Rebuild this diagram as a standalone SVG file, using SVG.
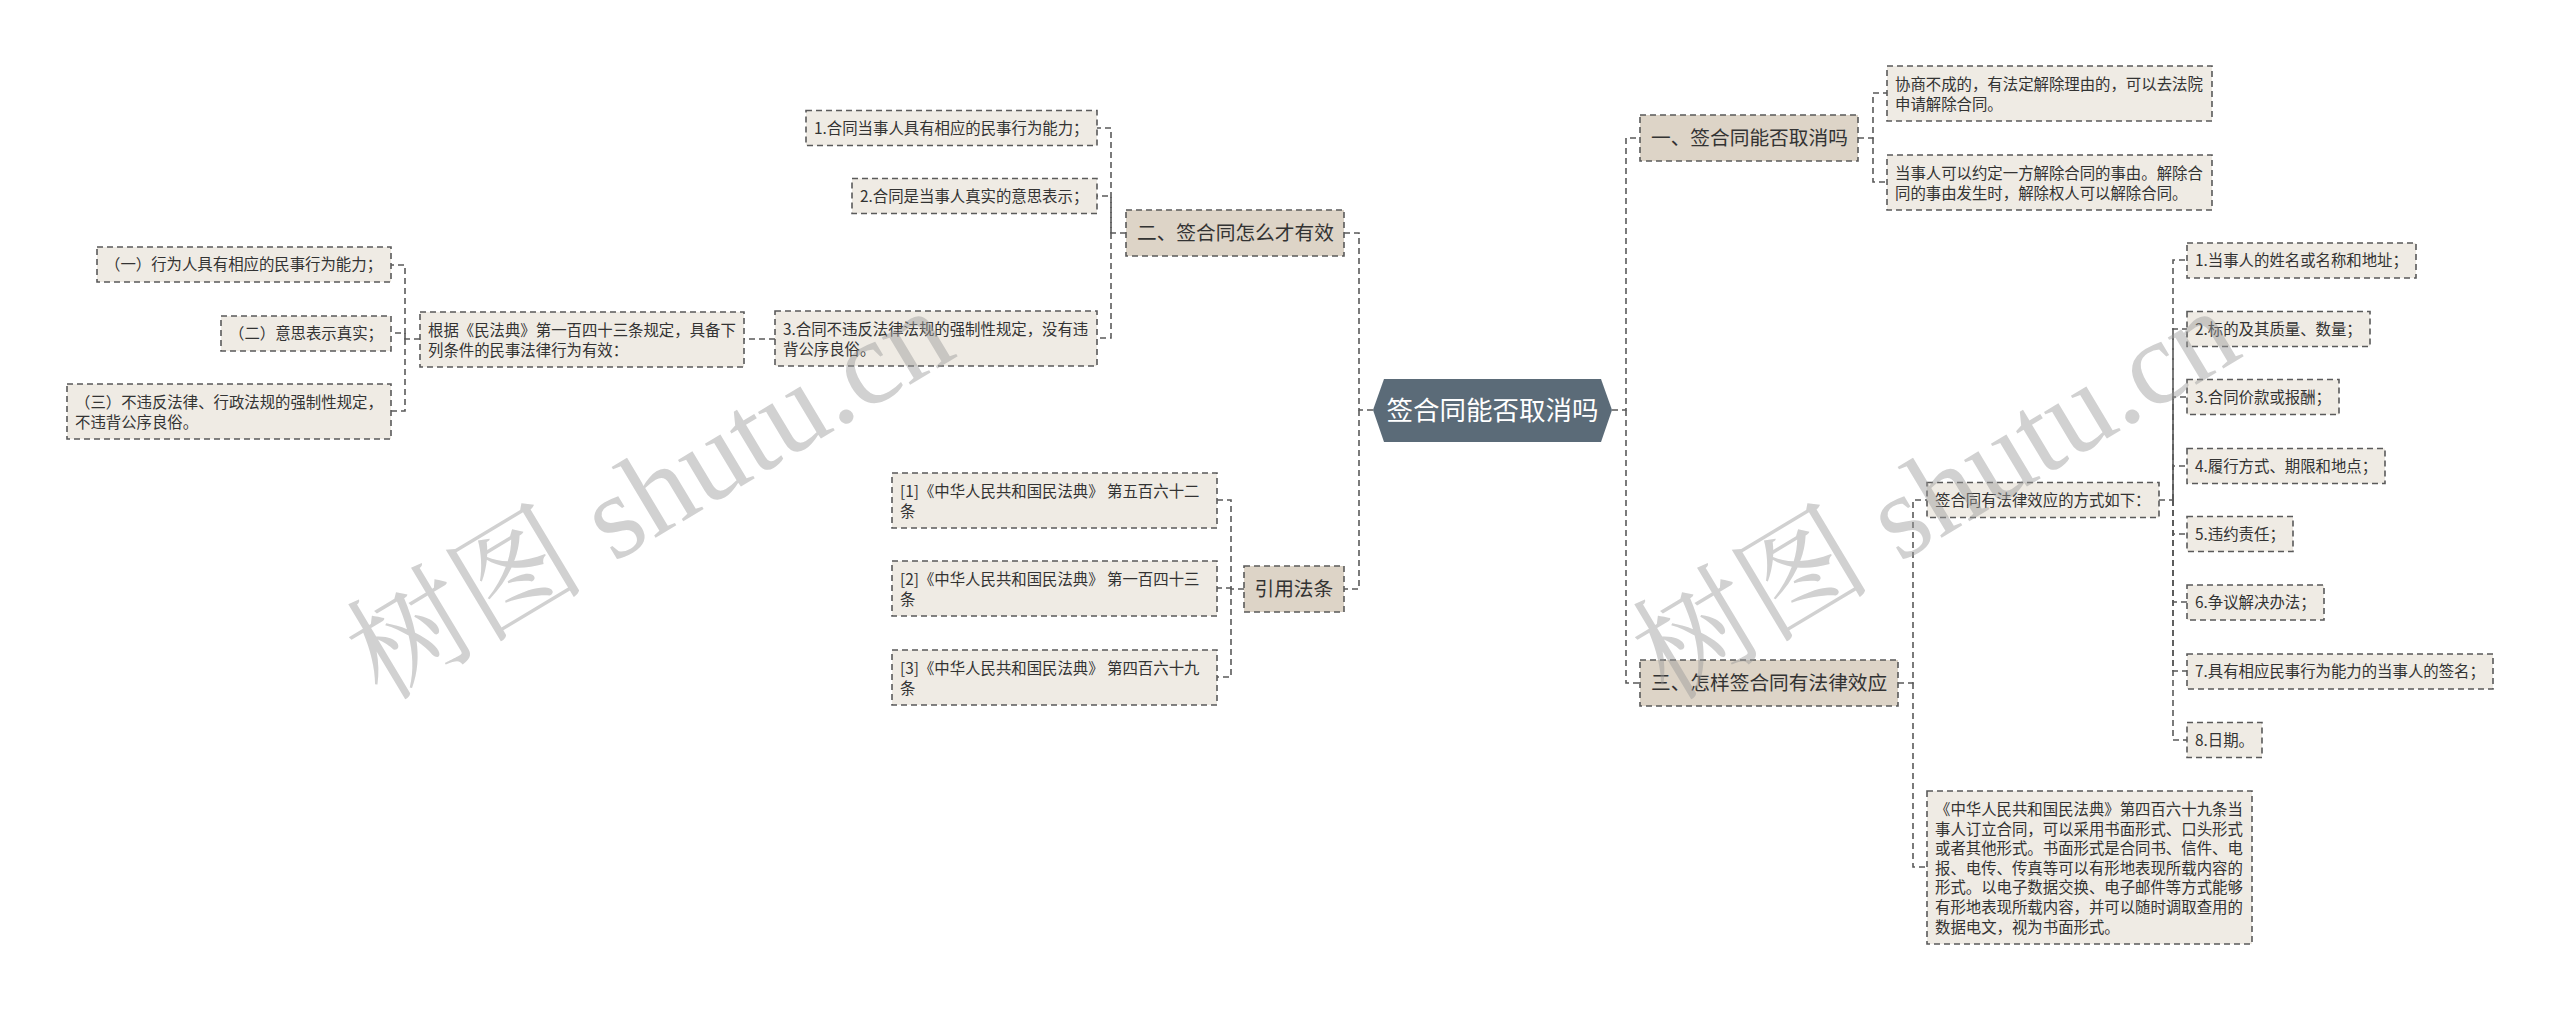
<svg xmlns="http://www.w3.org/2000/svg" width="2560" height="1011" viewBox="0 0 2560 1011">
<defs>
<style>
.bx{fill:#efebe4;stroke:#5a5a5a;stroke-width:1.6;stroke-dasharray:6 4}
.l1{fill:#ddd4c7;stroke:#5a5a5a;stroke-width:1.6;stroke-dasharray:6 4}
.t{font-family:"Noto Sans CJK SC","Microsoft YaHei",sans-serif;font-size:15.4px;fill:#333}
.t1{font-family:"Noto Sans CJK SC","Microsoft YaHei",sans-serif;font-size:19.7px;fill:#333}
.tc{font-family:"Noto Sans CJK SC","Microsoft YaHei",sans-serif;font-size:26.5px;fill:#fff}
.c{fill:none;stroke:#5a5a5a;stroke-width:1.6;stroke-dasharray:6 4}
.wm{font-family:"Liberation Serif","Noto Serif CJK SC","Noto Sans CJK SC",serif;font-size:120px;fill:#9a9a9a;opacity:0.45}
</style>
</defs>
<rect width="2560" height="1011" fill="#fff"/>
<g id="connectors">
<path class="c" d="M1373 410H1359V233H1344"/>
<path class="c" d="M1359 410V589H1344"/>
<path class="c" d="M1126 233H1111V128H1097"/>
<path class="c" d="M1111 233V196H1097"/>
<path class="c" d="M1111 233V338H1097"/>
<path class="c" d="M775 339H744"/>
<path class="c" d="M420 339H405V265H391"/>
<path class="c" d="M405 339V333H391"/>
<path class="c" d="M405 339V411H391"/>
<path class="c" d="M1244 589H1231V500H1217"/>
<path class="c" d="M1231 589V588H1217"/>
<path class="c" d="M1231 589V677H1217"/>
<path class="c" d="M1612 410H1626V138H1640"/>
<path class="c" d="M1626 410V683H1640"/>
<path class="c" d="M1858 138H1873V93H1887"/>
<path class="c" d="M1873 138V182H1887"/>
<path class="c" d="M1898 683H1913V500H1927"/>
<path class="c" d="M1913 683V867H1927"/>
<path class="c" d="M2159 500H2173V260H2187"/>
<path class="c" d="M2173 500V329H2187"/>
<path class="c" d="M2173 500V397H2187"/>
<path class="c" d="M2173 500V466H2187"/>
<path class="c" d="M2173 500V534H2187"/>
<path class="c" d="M2173 500V602H2187"/>
<path class="c" d="M2173 500V671H2187"/>
<path class="c" d="M2173 500V740H2187"/>
</g>
<g id="root">
<polygon points="1373,410 1384,379 1601,379 1612,410 1601,442 1384,442" fill="#5b6b78"/>
<text class="tc" x="1492.5" y="420" text-anchor="middle">签合同能否取消吗</text>
</g>
<g id="n2">
<rect class="l1" x="1126" y="210" width="218" height="46"/>
<text class="t1" x="1137" y="240">二、签合同怎么才有效</text>
</g>
<g id="n2-1">
<rect class="bx" x="806" y="110.5" width="291" height="35"/>
<text class="t" x="814" y="133.5">1.合同当事人具有相应的民事行为能力；</text>
</g>
<g id="n2-2">
<rect class="bx" x="852" y="178.5" width="245" height="35"/>
<text class="t" x="860" y="201.5">2.合同是当事人真实的意思表示；</text>
</g>
<g id="n2-3">
<rect class="bx" x="775" y="311" width="322" height="55"/>
<text class="t" x="783" y="335">3.合同不违反法律法规的强制性规定，没有违</text>
<text class="t" x="783" y="354.6">背公序良俗。</text>
</g>
<g id="n2-3-1">
<rect class="bx" x="420" y="312" width="324" height="55"/>
<text class="t" x="428" y="336">根据《民法典》第一百四十三条规定，具备下</text>
<text class="t" x="428" y="355.6">列条件的民事法律行为有效：</text>
</g>
<g id="n2-3-1-a">
<rect class="bx" x="97" y="247" width="294" height="35"/>
<text class="t" x="105" y="270">（一）行为人具有相应的民事行为能力；</text>
</g>
<g id="n2-3-1-b">
<rect class="bx" x="221" y="316" width="170" height="35"/>
<text class="t" x="229" y="339">（二）意思表示真实；</text>
</g>
<g id="n2-3-1-c">
<rect class="bx" x="67" y="384" width="324" height="55"/>
<text class="t" x="75" y="408">（三）不违反法律、行政法规的强制性规定，</text>
<text class="t" x="75" y="427.6">不违背公序良俗。</text>
</g>
<g id="n4">
<rect class="l1" x="1244" y="566" width="100" height="46"/>
<text class="t1" x="1254.5" y="596">引用法条</text>
</g>
<g id="n4-1">
<rect class="bx" x="892" y="473" width="325" height="55"/>
<text class="t" x="900" y="497">[1]《中华人民共和国民法典》 第五百六十二</text>
<text class="t" x="900" y="516.6">条</text>
</g>
<g id="n4-2">
<rect class="bx" x="892" y="561" width="325" height="55"/>
<text class="t" x="900" y="585">[2]《中华人民共和国民法典》 第一百四十三</text>
<text class="t" x="900" y="604.6">条</text>
</g>
<g id="n4-3">
<rect class="bx" x="892" y="650" width="325" height="55"/>
<text class="t" x="900" y="674">[3]《中华人民共和国民法典》 第四百六十九</text>
<text class="t" x="900" y="693.6">条</text>
</g>
<g id="n1">
<rect class="l1" x="1640" y="115" width="218" height="46"/>
<text class="t1" x="1651" y="145">一、签合同能否取消吗</text>
</g>
<g id="n1-1">
<rect class="bx" x="1887" y="66" width="325" height="55"/>
<text class="t" x="1895" y="90">协商不成的，有法定解除理由的，可以去法院</text>
<text class="t" x="1895" y="109.6">申请解除合同。</text>
</g>
<g id="n1-2">
<rect class="bx" x="1887" y="155" width="325" height="55"/>
<text class="t" x="1895" y="179">当事人可以约定一方解除合同的事由。解除合</text>
<text class="t" x="1895" y="198.6">同的事由发生时，解除权人可以解除合同。</text>
</g>
<g id="n3">
<rect class="l1" x="1640" y="660" width="258" height="46"/>
<text class="t1" x="1651" y="690">三、怎样签合同有法律效应</text>
</g>
<g id="n3-1">
<rect class="bx" x="1927" y="482.5" width="232" height="35"/>
<text class="t" x="1935" y="505.5">签合同有法律效应的方式如下：</text>
</g>
<g id="n3-1-1">
<rect class="bx" x="2187" y="243" width="229" height="35"/>
<text class="t" x="2195" y="266">1.当事人的姓名或名称和地址；</text>
</g>
<g id="n3-1-2">
<rect class="bx" x="2187" y="311.5" width="183" height="35"/>
<text class="t" x="2195" y="334.5">2.标的及其质量、数量；</text>
</g>
<g id="n3-1-3">
<rect class="bx" x="2187" y="379.5" width="152" height="35"/>
<text class="t" x="2195" y="402.5">3.合同价款或报酬；</text>
</g>
<g id="n3-1-4">
<rect class="bx" x="2187" y="448.5" width="198" height="35"/>
<text class="t" x="2195" y="471.5">4.履行方式、期限和地点；</text>
</g>
<g id="n3-1-5">
<rect class="bx" x="2187" y="516.5" width="106" height="35"/>
<text class="t" x="2195" y="539.5">5.违约责任；</text>
</g>
<g id="n3-1-6">
<rect class="bx" x="2187" y="585" width="137" height="35"/>
<text class="t" x="2195" y="608">6.争议解决办法；</text>
</g>
<g id="n3-1-7">
<rect class="bx" x="2187" y="654" width="306" height="35"/>
<text class="t" x="2195" y="677">7.具有相应民事行为能力的当事人的签名；</text>
</g>
<g id="n3-1-8">
<rect class="bx" x="2187" y="722.5" width="75" height="35"/>
<text class="t" x="2195" y="745.5">8.日期。</text>
</g>
<g id="n3-2">
<rect class="bx" x="1927" y="791" width="325" height="153"/>
<text class="t" x="1935" y="815">《中华人民共和国民法典》第四百六十九条当</text>
<text class="t" x="1935" y="834.6">事人订立合同，可以采用书面形式、口头形式</text>
<text class="t" x="1935" y="854.2">或者其他形式。书面形式是合同书、信件、电</text>
<text class="t" x="1935" y="873.8">报、电传、传真等可以有形地表现所载内容的</text>
<text class="t" x="1935" y="893.4">形式。以电子数据交换、电子邮件等方式能够</text>
<text class="t" x="1935" y="913">有形地表现所载内容，并可以随时调取查用的</text>
<text class="t" x="1935" y="932.6">数据电文，视为书面形式。</text>
</g>
<g id="watermark">
<text class="wm" transform="translate(382,702) rotate(-31)">树图 shutu.cn</text>
<text class="wm" transform="translate(1668,702) rotate(-31)">树图 shutu.cn</text>
</g>
</svg>
